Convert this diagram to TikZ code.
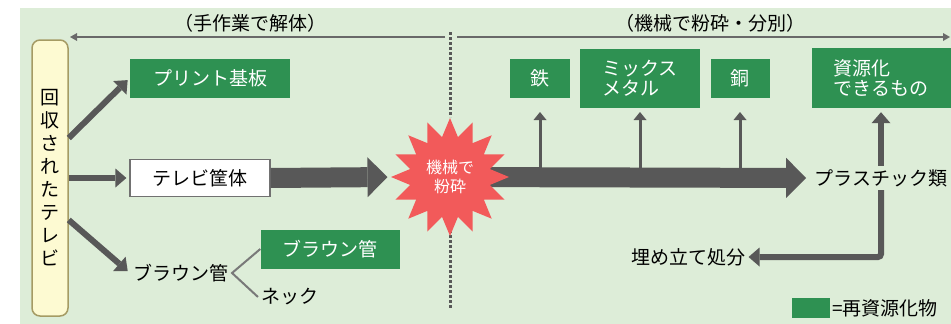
\documentclass[tikz,border=0pt]{standalone}
\usepackage{fontspec}
\newfontfamily\jp{Noto Sans CJK JP}
\usepackage{tikz}
\usetikzlibrary{arrows.meta,shapes.geometric}
\usepackage{xcolor}
\definecolor{bggreen}{RGB}{221,237,216}
\definecolor{boxgreen}{RGB}{46,145,82}
\definecolor{arrowgray}{RGB}{88,88,88}
\definecolor{burstred}{RGB}{242,90,90}
\definecolor{tvyellow}{RGB}{253,250,210}
\definecolor{tvborder}{RGB}{165,155,100}

\begin{document}
\begin{tikzpicture}[x=1pt, y=-1pt, font=\jp\fontsize{19}{21}\selectfont,
  greenbox/.style={fill=boxgreen, text=white, inner sep=0pt, font=\jp\fontsize{19}{20}\selectfont},
  plainbox/.style={draw=arrowgray!85, fill=white, line width=1.2pt, inner sep=0pt},
  fatarrow/.style={arrowgray, line width=20pt, -{Triangle[length=20pt, width=40pt, line width=0pt]}},
  midarrow/.style={arrowgray, line width=6pt, -{Triangle[length=11pt, width=19pt, line width=0pt]}},
  thinarrow/.style={arrowgray, line width=3pt, -{Triangle[length=8pt, width=13pt, line width=0pt]}},
  headarrow/.style={arrowgray!90, line width=1.8pt, -{Triangle[length=7pt, width=8pt, line width=0pt]}},
  divider/.style={arrowgray, line width=3pt, dash pattern=on 3pt off 2pt}]
\useasboundingbox (0,0) rectangle (951,324);
\fill[bggreen] (20,8) rectangle (951,324);

% headers
\node (handhd) at (250,23) {（手作業で解体）};
\node (machhd) at (710,23) {（機械で粉砕・分別）};
\coordinate (divtop) at (450,32);
\coordinate (divmid1) at (450,117);
\coordinate (divmid2) at (450,225);
\coordinate (divbot) at (450,308);
\draw[divider] (divtop) -- (divmid1);
\draw[divider] (divmid2) -- (divbot);
\draw[headarrow] (445,37) -- (70,37);
\draw[headarrow] (457,37) -- (950,37);

% hand work
\node[draw=tvborder, fill=tvyellow, line width=1.5pt, rounded corners=8pt, minimum width=36pt, minimum height=276pt, align=center, inner sep=0pt, font=\jp\fontsize{19}{23}\selectfont] (tv) at (50,178) {回\\収\\さ\\れ\\た\\テ\\レ\\ビ};
\node[greenbox, minimum width=160pt, minimum height=39pt] (pcb) at (210,78) {プリント基板};
\node[plainbox, minimum width=140pt, minimum height=37pt] (case) at (200,178) {テレビ筐体};
\node[greenbox, minimum width=139pt, minimum height=39pt] (crtbox) at (330,249) {ブラウン管};
\node (crt) at (181,273) {ブラウン管};
\node (neck) at (290,297) {ネック};

\draw[midarrow, shorten >=3pt] ([yshift=40pt]tv.east) -- (pcb.west);
\draw[midarrow, shorten >=3pt] (tv.east) -- (case.west);
\draw[midarrow, shorten >=3pt] ([yshift=-42pt]tv.east) -- (crt.west);
\draw[arrowgray!80, line width=2pt] (crtbox.west) -- (crt.east) -- (neck.west);

% machine
\node[greenbox, minimum width=60pt, minimum height=39pt] (iron) at (540,78) {鉄};
\node[greenbox, minimum width=120pt, minimum height=59pt, align=left] (mixed) at (640,78) {ミックス\\メタル};
\node[greenbox, minimum width=59pt, minimum height=39pt] (copper) at (740,78) {銅};
\node[greenbox, minimum width=139pt, minimum height=60pt, align=left] (recyc) at (881,78) {資源化\\できるもの};
\node (plastic) at (881,178) {プラスチック類};
\node (landfill) at (688,257) {埋め立て処分};

\coordinate (burstc) at (450,177);
\draw[fatarrow, shorten >=5pt] (burstc) -- (plastic.west);
\node[star, star points=16, star point ratio=1.45, fill=burstred, minimum size=118pt, inner sep=0pt, text=white, align=center, font=\jp\fontsize{16}{19}\selectfont] (burst) at (burstc) {機械で\\粉砕};
\draw[fatarrow, shorten >=3pt] (case.east) -- (burst.west);

\coordinate (shafttop) at (0,170);
\coordinate (tipline) at (0,112);
\foreach \b in {iron,mixed,copper}
  \draw[thinarrow] (\b.south |- shafttop) -- (\b.south |- tipline);

\draw[midarrow, shorten >=4pt] (plastic.north) -- (recyc.south);
\draw[midarrow, rounded corners=3pt] (plastic.south) |- (landfill.east);

% legend
\node[fill=boxgreen, minimum width=38pt, minimum height=20pt, inner sep=0pt] (legendbox) at (811,308) {};
\node[anchor=west, inner sep=2pt] (legend) at (legendbox.east) {=再資源化物};
\end{tikzpicture}
\end{document}
